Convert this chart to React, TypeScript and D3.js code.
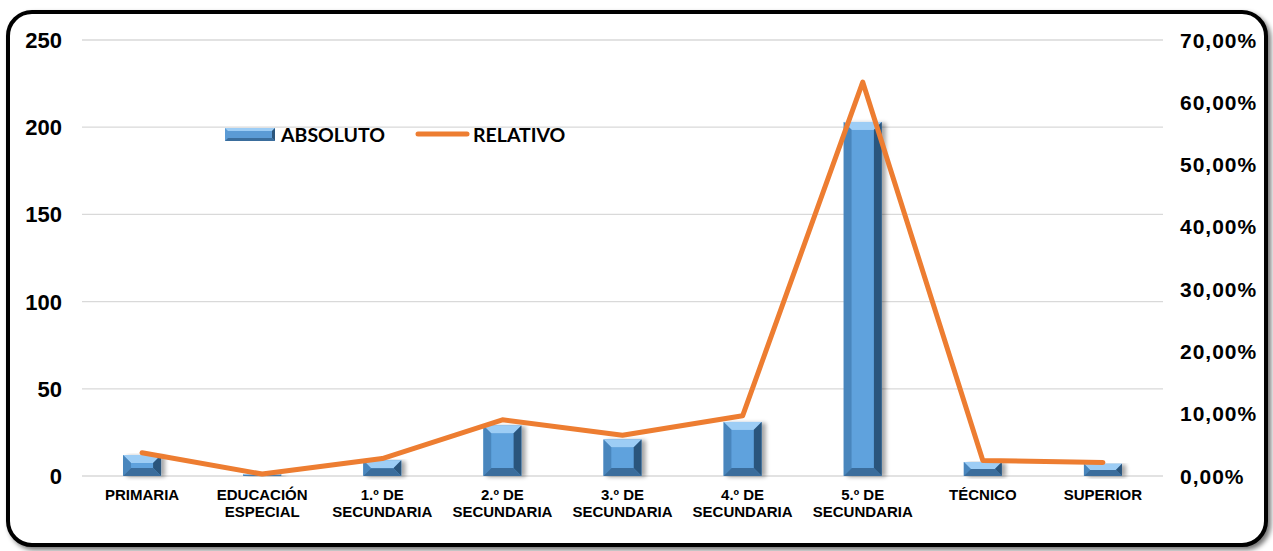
import React from "react";
import * as d3 from "d3";

const categories: string[][] = [
  ["PRIMARIA"],
  ["EDUCACIÓN", "ESPECIAL"],
  ["1.º DE", "SECUNDARIA"],
  ["2.º DE", "SECUNDARIA"],
  ["3.º DE", "SECUNDARIA"],
  ["4.º DE", "SECUNDARIA"],
  ["5.º DE", "SECUNDARIA"],
  ["TÉCNICO"],
  ["SUPERIOR"],
];
const absoluto: number[] = [12, 1, 9, 29, 21, 31, 203, 8, 7];
const relativo: number[] = [3.74, 0.31, 2.8, 9.03, 6.54, 9.66, 63.24, 2.49, 2.18];
const leftTicks: number[] = [0, 50, 100, 150, 200, 250];
const rightTicks: number[] = [0, 10, 20, 30, 40, 50, 60, 70];

const W = 1273;
const H = 551;
const plot = { left: 82, right: 1163, top: 40, bottom: 476 };

export default function App() {
  const x = d3
    .scaleBand<number>()
    .domain(categories.map((_, i) => i))
    .range([plot.left, plot.right])
    .paddingInner(0.68)
    .paddingOuter(0.34);
  const yL = d3.scaleLinear().domain([0, 250]).range([plot.bottom, plot.top]);
  const yR = d3.scaleLinear().domain([0, 70]).range([plot.bottom, plot.top]);
  const bw = 38;

  const line = d3
    .line<number>()
    .x((_, i) => (x(i) as number) + x.bandwidth() / 2)
    .y((d) => yR(d));

  const fmt = (v: number) => v.toFixed(2).replace(".", ",") + "%";

  return (
    <svg width={W} height={H} style={{ display: "block", position: "absolute", left: 0, top: 0 }}>
      <defs>
        <filter id="shadow" x="-10%" y="-10%" width="130%" height="130%">
          <feGaussianBlur in="SourceAlpha" stdDeviation="2.5" />
          <feOffset dx="3" dy="3" result="b" />
          <feComponentTransfer>
            <feFuncA type="linear" slope="0.55" />
          </feComponentTransfer>
          <feMerge>
            <feMergeNode />
            <feMergeNode in="SourceGraphic" />
          </feMerge>
        </filter>
        <filter id="barShadow" x="-30%" y="-10%" width="180%" height="130%">
          <feGaussianBlur in="SourceAlpha" stdDeviation="2" />
          <feOffset dx="4" dy="1" result="b" />
          <feComponentTransfer>
            <feFuncA type="linear" slope="0.35" />
          </feComponentTransfer>
          <feMerge>
            <feMergeNode />
            <feMergeNode in="SourceGraphic" />
          </feMerge>
        </filter>
      </defs>
      <rect x={0} y={0} width={W} height={H} fill="#fff" />
      <rect
        x={8}
        y={12}
        width={1258}
        height={533}
        rx={24}
        ry={24}
        fill="#fff"
        stroke="#000"
        strokeWidth={4}
        filter="url(#shadow)"
      />
      {/* gridlines */}
      {leftTicks.map((t) => (
        <line
          key={t}
          x1={plot.left}
          x2={plot.right}
          y1={yL(t)}
          y2={yL(t)}
          stroke="#d9d9d9"
          strokeWidth={1.3}
        />
      ))}
      {/* left axis labels */}
      {leftTicks.map((t) => (
        <text
          key={"l" + t}
          x={62}
          y={yL(t)}
          dy="0.36em"
          textAnchor="end"
          fontFamily="Liberation Sans, Arial, sans-serif"
          fontWeight="bold"
          fontSize={22}
          fill="#000"
        >
          {t}
        </text>
      ))}
      {/* right axis labels */}
      {rightTicks.map((t) => (
        <text
          key={"r" + t}
          x={1180}
          y={yR(t)}
          dy="0.36em"
          textAnchor="start"
          fontFamily="Liberation Sans, Arial, sans-serif"
          fontWeight="bold"
          fontSize={21}
          letterSpacing={1}
          fill="#000"
        >
          {fmt(t)}
        </text>
      ))}
      {/* bars */}
      {absoluto.map((v, i) => {
        const cx = (x(i) as number) + x.bandwidth() / 2;
        const x0 = cx - bw / 2;
        const x1 = cx + bw / 2;
        const y0 = yL(v);
        const y1 = yL(0);
        const h = y1 - y0;
        const b = Math.min(8, h / 2, bw / 2);
        return (
          <g key={"b" + i} filter="url(#barShadow)">
            <rect x={x0} y={y0} width={bw} height={h} fill="#5b9bd5" />
            <polygon points={`${x0},${y0} ${x1},${y0} ${x1 - b},${y0 + b} ${x0 + b},${y0 + b}`} fill="#9dcdf5" />
            <polygon points={`${x0},${y0} ${x0 + b},${y0 + b} ${x0 + b},${y1 - b} ${x0},${y1}`} fill="#4a86bd" />
            <polygon points={`${x1},${y0} ${x1 - b},${y0 + b} ${x1 - b},${y1 - b} ${x1},${y1}`} fill="#2b557c" />
            <polygon points={`${x0},${y1} ${x1},${y1} ${x1 - b},${y1 - b} ${x0 + b},${y1 - b}`} fill="#3a6d9c" />
            <rect x={x0 + b} y={y0 + b} width={Math.max(0, bw - 2 * b)} height={Math.max(0, h - 2 * b)} fill="#5ea2dd" />
          </g>
        );
      })}
      {/* line */}
      <path
        d={line(relativo) as string}
        fill="none"
        stroke="#ed7d31"
        strokeWidth={5}
        strokeLinejoin="round"
        strokeLinecap="round"
      />
      {/* category labels */}
      {categories.map((lines, i) => {
        const cx = (x(i) as number) + x.bandwidth() / 2;
        return (
          <text
            key={"c" + i}
            x={cx}
            y={500}
            textAnchor="middle"
            fontFamily="Liberation Sans, Arial, sans-serif"
            fontWeight="bold"
            fontSize={15}
            fill="#000"
          >
            {lines.map((s, j) => (
              <tspan key={j} x={cx} dy={j === 0 ? 0 : 17}>
                {s}
              </tspan>
            ))}
          </text>
        );
      })}
      {/* legend */}
      <g>
        <rect x={225} y={128} width={50} height={13} fill="#5b9bd5" />
        <polygon points="225,128 275,128 272,131 228,131" fill="#9dcdf5" />
        <polygon points="275,128 272,131 272,138 275,141" fill="#2b557c" />
        <polygon points="225,141 275,141 272,138 228,138" fill="#3a6d9c" />
        <text x={281} y={135} dy="0.36em" fontFamily="Lato, sans-serif" fontWeight="bold" fontSize={19.5} fill="#000">
          ABSOLUTO
        </text>
        <line x1={418} x2={467} y1={134} y2={134} stroke="#ed7d31" strokeWidth={5} strokeLinecap="round" />
        <text x={473} y={135} dy="0.36em" fontFamily="Lato, sans-serif" fontWeight="bold" fontSize={19.5} fill="#000">
          RELATIVO
        </text>
      </g>
    </svg>
  );
}
